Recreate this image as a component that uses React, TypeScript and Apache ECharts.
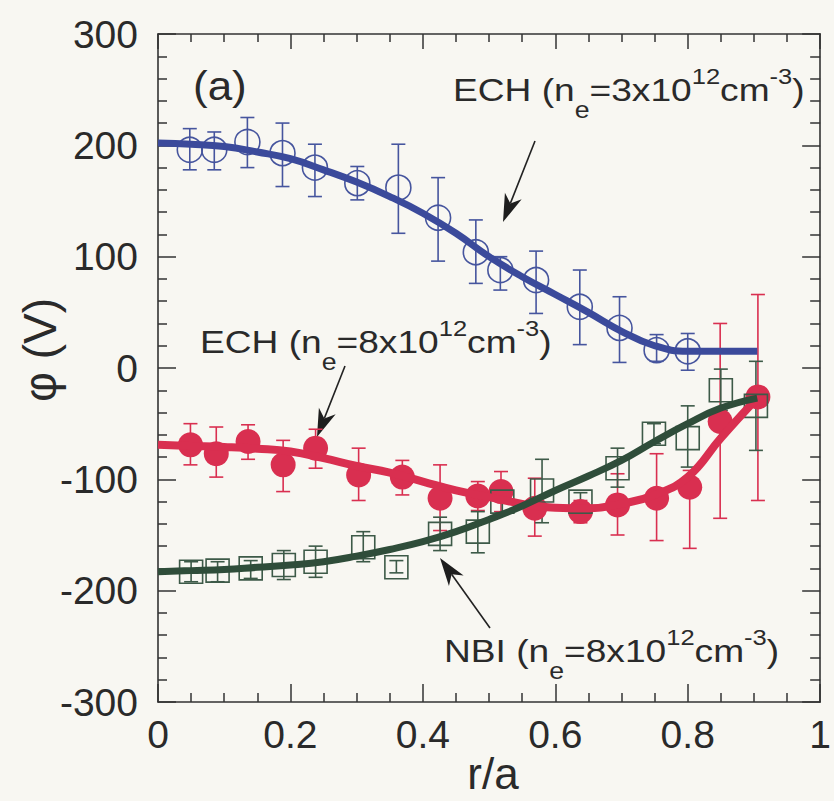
import React, { useEffect, useRef } from "react";
import * as echarts from "echarts";

// ---------- data ----------
// ECH, ne = 3e12 (open circles, blue)
const blueR = [0.048, 0.085, 0.135, 0.188, 0.237, 0.301, 0.363, 0.423, 0.48, 0.517, 0.571, 0.637, 0.697, 0.753, 0.8];
const blueVal = [196, 196, 203, 193, 180, 166, 162, 135, 104, 88, 79, 55, 36, 16, 15];
const blueLo = [178, 178, 180, 163, 154, 151, 121, 96, 76, 70, 49, 21, 5, 6, -2];
const blueHi = [215, 212, 225, 220, 201, 181, 201, 171, 133, 100, 105, 88, 64, 30, 31];

// ECH, ne = 8e12 (filled circles, red)
const redR = [0.049, 0.088, 0.136, 0.189, 0.238, 0.303, 0.369, 0.426, 0.483, 0.518, 0.569, 0.638, 0.694, 0.753, 0.803, 0.849, 0.906];
const redVal = [-69, -77, -66, -87, -72, -96, -98, -117, -115, -111, -126, -129, -123, -117, -107, -48, -26];
const redLo = [-87, -98, -82, -111, -90, -119, -114, -146, -128, -129, -151, -139, -150, -155, -162, -135, -119];
const redHi = [-50, -53, -51, -65, -55, -72, -83, -87, -102, -93, -99, -119, -95, -77, -92, 40, 66];

// NBI, ne = 8e12 (open squares, green)
const greenR = [0.05, 0.09, 0.14, 0.19, 0.238, 0.31, 0.36, 0.426, 0.483, 0.52, 0.58, 0.638, 0.694, 0.749, 0.8, 0.85, 0.903];
const greenVal = [-183, -182, -180, -177, -174, -161, -179, -149, -147, -120, -110, -120, -90, -59, -63, -20, -34];
const greenLo = [-192, -192, -189, -190, -188, -174, -184, -164, -166, -130, -139, -128, -107, -68, -89, -38, -74];
const greenHi = [-174, -174, -173, -164, -160, -147, -173, -134, -129, -110, -82, -112, -72, -50, -34, -1, 6];

// fitted curves
const fitR = [0, 0.05, 0.1, 0.15, 0.2, 0.25, 0.3, 0.35, 0.4, 0.45, 0.5, 0.55, 0.6, 0.65, 0.7, 0.75, 0.8, 0.85, 0.905];
const blueFit = [202, 201, 199, 194, 188, 178, 167, 154, 139, 121, 100, 82, 66, 50, 33, 20, 15, 15, 15];
const greenFit = [-183, -182, -181, -179, -177, -174, -169, -163, -156, -147, -136, -124, -110, -97, -83, -66, -50, -36, -27];
const redFitR = [0, 0.05, 0.1, 0.15, 0.2, 0.25, 0.3, 0.35, 0.4, 0.45, 0.5, 0.55, 0.6, 0.65, 0.7, 0.75, 0.8, 0.85, 0.905];
const redFit = [-69, -70, -71, -72.5, -75, -81, -88, -94, -102, -110, -116, -122, -125.5, -126, -122, -114, -98, -63, -27];

const xMin = 0, xMax = 1, xStep = 0.2;
const yMin = -300, yMax = 300, yStep = 100;

// ---------- styling ----------
const FONT = "'Liberation Sans', Arial, Helvetica, sans-serif";
const INK = "#2a2a2a";
const BLUE = "#3b4a9b";
const BLUE_MK = "#46559e";
const RED = "#d92f50";
const GREEN = "#2f4d3a";
const GREEN_MK = "#3d5a48";

const zip = (xs: number[], ys: number[]) => xs.map((x, i) => [x, ys[i]]);
const zip3 = (xs: number[], lo: number[], hi: number[]) => xs.map((x, i) => [x, lo[i], hi[i]]);

function errRender(color: string) {
  return (params: any, api: any) => {
    const x = api.value(0);
    const lo = api.value(1);
    const hi = api.value(2);
    const a = api.coord([x, hi]);
    const b = api.coord([x, lo]);
    const w = 7;
    const st = { stroke: color, lineWidth: 1.6, fill: "none" };
    return {
      type: "group",
      children: [
        { type: "line", shape: { x1: a[0], y1: a[1], x2: b[0], y2: b[1] }, style: st },
        { type: "line", shape: { x1: a[0] - w, y1: a[1], x2: a[0] + w, y2: a[1] }, style: st },
        { type: "line", shape: { x1: b[0] - w, y1: b[1], x2: b[0] + w, y2: b[1] }, style: st },
      ],
    };
  };
}

function arrow(x1: number, y1: number, x2: number, y2: number) {
  const dx = x2 - x1, dy = y2 - y1;
  const len = Math.hypot(dx, dy);
  const ux = dx / len, uy = dy / len;
  const nx = -uy, ny = ux;
  const L = 28, W = 9, N = 8;
  const bx = x2 - L * ux, by = y2 - L * uy;
  const mx = x2 - (L - N) * ux, my = y2 - (L - N) * uy;
  return [
    { type: "line", shape: { x1, y1, x2: mx, y2: my }, style: { stroke: "#222", lineWidth: 1.6 } },
    {
      type: "polygon",
      shape: { points: [[x2, y2], [bx + W * nx, by + W * ny], [mx, my], [bx - W * nx, by - W * ny]] },
      style: { fill: "#1e1e1e" },
    },
  ];
}

function label(x: number, y: number, head: string, dens: string) {
  return {
    type: "text",
    x,
    y,
    scaleX: 1.16,
    style: {
      x: 0,
      y: 0,
      text: `{m|${head} (n}{s|e}{m|=${dens}x10}{u|12}{m|cm}{u|-3}{m|)}`,
      align: "left",
      verticalAlign: "middle",
      fill: INK,
      font: `32px ${FONT}`,
      rich: {
        m: { fontSize: 32, fontFamily: FONT, fill: INK },
        s: { fontSize: 23, fontFamily: FONT, fill: INK, padding: [40, 0, 0, 0] },
        u: { fontSize: 22, fontFamily: FONT, fill: INK, padding: [0, 0, 28, 0] },
      },
    },
  };
}

function axisCommon(showLabel: boolean) {
  return {
    axisLine: { show: true, onZero: false, lineStyle: { color: "#333", width: 1.6 } },
    axisTick: { show: true, inside: true, length: 18, lineStyle: { color: "#333", width: 1.5 } },
    minorTick: { show: true, length: 9, lineStyle: { color: "#333", width: 1.5 } },
    splitLine: { show: false },
    minorSplitLine: { show: false },
    axisLabel: showLabel
      ? { show: true, fontSize: 38, color: INK, fontFamily: FONT }
      : { show: false },
  };
}

export default function App() {
  const ref = useRef<HTMLDivElement>(null);

  useEffect(() => {
    if (!ref.current) return;
    const chart = echarts.init(ref.current, undefined, { renderer: "svg" });

    const xBase = { type: "value", min: xMin, max: xMax, interval: xStep };
    const yBase = { type: "value", min: yMin, max: yMax, interval: yStep };

    const option: any = {
      animation: false,
      backgroundColor: "#f8f7f2",
      grid: { left: 158, right: 8, top: 34, bottom: 99, containLabel: false },
      xAxis: [
        {
          ...xBase,
          position: "bottom",
          ...axisCommon(true),
          minorTick: { show: true, splitNumber: 4, length: 9, lineStyle: { color: "#333", width: 1.5 } },
          axisLabel: { show: true, fontSize: 39, color: INK, fontFamily: FONT, margin: 13 },
        },
        {
          ...xBase,
          position: "top",
          ...axisCommon(false),
          minorTick: { show: true, splitNumber: 4, length: 8, lineStyle: { color: "#333", width: 1.5 } },
          axisTick: { show: true, inside: true, length: 15, lineStyle: { color: "#333", width: 1.5 } },
        },
      ],
      yAxis: [
        {
          ...yBase,
          position: "left",
          ...axisCommon(true),
          minorTick: { show: true, splitNumber: 5, length: 9, lineStyle: { color: "#333", width: 1.5 } },
          axisLabel: { show: true, fontSize: 39, color: INK, fontFamily: FONT, margin: 20 },
        },
        {
          ...yBase,
          position: "right",
          ...axisCommon(false),
          minorTick: { show: true, splitNumber: 5, length: 10, lineStyle: { color: "#333", width: 1.5 } },
        },
      ],
      series: [
        // red (ECH 8e12)
        {
          type: "custom",
          renderItem: errRender(RED),
          data: zip3(redR, redLo, redHi),
          encode: { x: 0, y: [1, 2] },
          silent: true,
        },
        {
          type: "scatter",
          data: zip(redR, redVal),
          symbol: "circle",
          symbolSize: 25,
          itemStyle: { color: RED, opacity: 1 },
          silent: true,
        },
        {
          type: "line",
          data: zip(redFitR, redFit),
          showSymbol: false,
          smooth: 0.45,
          lineStyle: { color: RED, width: 8 },
          silent: true,
        },
        // green (NBI 8e12)
        {
          type: "custom",
          renderItem: errRender(GREEN_MK),
          data: zip3(greenR, greenLo, greenHi),
          encode: { x: 0, y: [1, 2] },
          silent: true,
        },
        {
          type: "scatter",
          data: zip(greenR, greenVal),
          symbol: "rect",
          symbolSize: 23,
          itemStyle: { color: "rgba(0,0,0,0)", borderColor: GREEN_MK, borderWidth: 1.6, opacity: 1 },
          silent: true,
        },
        {
          type: "line",
          data: zip(fitR, greenFit),
          showSymbol: false,
          smooth: 0.45,
          lineStyle: { color: GREEN, width: 7 },
          silent: true,
        },
        // blue (ECH 3e12)
        {
          type: "custom",
          renderItem: errRender(BLUE_MK),
          data: zip3(blueR, blueLo, blueHi),
          encode: { x: 0, y: [1, 2] },
          silent: true,
        },
        {
          type: "scatter",
          data: zip(blueR, blueVal),
          symbol: "circle",
          symbolSize: 25,
          itemStyle: { color: "rgba(0,0,0,0)", borderColor: BLUE_MK, borderWidth: 1.6, opacity: 1 },
          silent: true,
        },
        {
          type: "line",
          data: zip(fitR, blueFit),
          showSymbol: false,
          smooth: 0.45,
          lineStyle: { color: BLUE, width: 7 },
          silent: true,
        },
      ],
      graphic: [
        {
          type: "text",
          x: 193,
          y: 86,
          scaleX: 1.1,
          style: { text: "(a)", font: `40px ${FONT}`, fill: INK, align: "left", verticalAlign: "middle" },
        },
        label(453, 90, "ECH", "3"),
        label(200, 342, "ECH", "8"),
        label(444, 651, "NBI", "8"),
        ...arrow(535, 141, 503, 222),
        ...arrow(345, 366, 317, 437),
        ...arrow(490, 628, 440, 558),
        {
          type: "text",
          x: 493,
          y: 773,
          style: { text: "r/a", font: `44px ${FONT}`, fill: INK, align: "center", verticalAlign: "middle" },
        },
        {
          type: "text",
          x: 40,
          y: 350,
          rotation: Math.PI / 2,
          style: { text: "φ (V)", font: `46px ${FONT}`, fill: INK, align: "center", verticalAlign: "middle" },
        },
      ],
    };

    chart.setOption(option);
    return () => chart.dispose();
  }, []);

  return (
    <div
      ref={ref}
      style={{ position: "absolute", left: 0, top: 0, width: 834, height: 801 }}
    />
  );
}
